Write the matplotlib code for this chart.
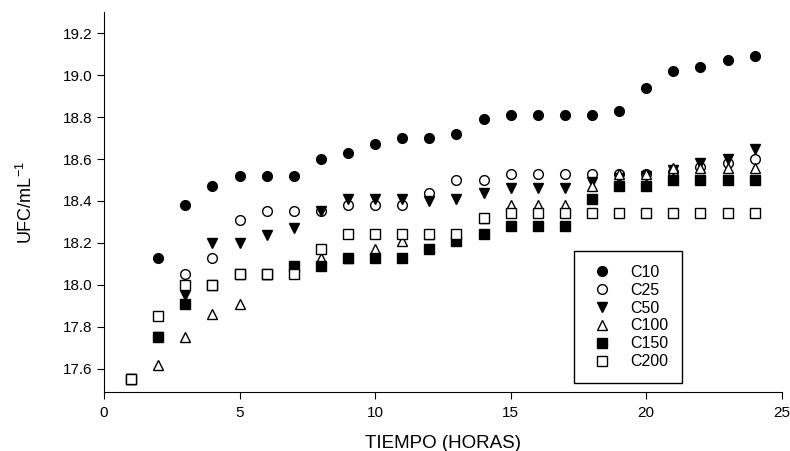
import matplotlib
matplotlib.use("Agg")
import matplotlib.pyplot as plt

plt.rcParams['font.family'] = ['Liberation Sans', 'DejaVu Sans']
plt.rcParams['mathtext.fontset'] = 'custom'
plt.rcParams['mathtext.rm'] = 'Liberation Sans'

# datos
horas = list(range(1, 25))
c10 = [17.55, 18.13, 18.38, 18.47, 18.52, 18.52, 18.52, 18.60, 18.63, 18.67, 18.70, 18.70,
       18.72, 18.79, 18.81, 18.81, 18.81, 18.81, 18.83, 18.94, 19.02, 19.04, 19.07, 19.09]
c25 = [17.55, 17.75, 18.05, 18.13, 18.31, 18.35, 18.35, 18.35, 18.38, 18.38, 18.38, 18.44,
       18.50, 18.50, 18.53, 18.53, 18.53, 18.53, 18.53, 18.53, 18.54, 18.56, 18.58, 18.60]
c50 = [17.55, 17.75, 17.95, 18.20, 18.20, 18.24, 18.27, 18.35, 18.41, 18.41, 18.41, 18.40,
       18.41, 18.44, 18.46, 18.46, 18.46, 18.49, 18.51, 18.52, 18.55, 18.58, 18.60, 18.65]
c100 = [17.55, 17.62, 17.75, 17.86, 17.91, 18.05, 18.09, 18.13, 18.13, 18.17, 18.21, 18.245,
        18.245, 18.32, 18.38, 18.38, 18.38, 18.47, 18.53, 18.53, 18.555, 18.555, 18.555, 18.555]
c150 = [17.55, 17.75, 17.91, 18.00, 18.05, 18.05, 18.09, 18.09, 18.13, 18.13, 18.13, 18.17,
        18.21, 18.245, 18.28, 18.28, 18.28, 18.41, 18.47, 18.47, 18.50, 18.50, 18.50, 18.50]
c200 = [17.55, 17.85, 18.00, 18.00, 18.05, 18.05, 18.05, 18.17, 18.245, 18.245, 18.245, 18.245,
        18.245, 18.32, 18.345, 18.345, 18.345, 18.345, 18.345, 18.345, 18.345, 18.345, 18.345, 18.345]

series = [("C10", c10, 'o', 'black', 7),
          ("C25", c25, 'o', 'white', 7),
          ("C50", c50, 'v', 'black', 7.5),
          ("C100", c100, '^', 'white', 7.5),
          ("C150", c150, 's', 'black', 6.5),
          ("C200", c200, 's', 'white', 6.5)]

fig = plt.figure(figsize=(7.9, 4.51), dpi=100)
ax = fig.add_axes([0.1316, 0.131, 0.858, 0.842])

for name, vals, mk, fc, ms in series:
    ax.plot(horas, vals, linestyle='none', marker=mk, markersize=ms,
            markerfacecolor=fc, markeredgecolor='black', markeredgewidth=1.0, label=name)

ax.set_xlim(0, 25)
ax.set_ylim(17.49, 19.3)
ax.set_xticks([0, 5, 10, 15, 20, 25])
ax.set_yticks([17.6, 17.8, 18.0, 18.2, 18.4, 18.6, 18.8, 19.0, 19.2])
ax.set_yticklabels(["%.1f" % v for v in ax.get_yticks()])
ax.spines['top'].set_visible(False)
ax.spines['right'].set_visible(False)
ax.tick_params(direction='out', length=5, labelsize=11)
ax.tick_params(axis='x', pad=5)
ax.set_xlabel("TIEMPO (HORAS)", fontsize=13.5, labelpad=11)
ax.set_ylabel("UFC/mL$^{-1}$", fontsize=13, labelpad=19)

leg = ax.legend(loc='lower left', bbox_to_anchor=(0.6934, 0.024), fontsize=11.5,
                frameon=True, fancybox=False, edgecolor='black', framealpha=1,
                labelspacing=0.18, borderpad=0.85, handlelength=1.8, handletextpad=0.85,
                borderaxespad=0)
leg.get_frame().set_linewidth(1.0)

fig.savefig("out.png", dpi=100)
